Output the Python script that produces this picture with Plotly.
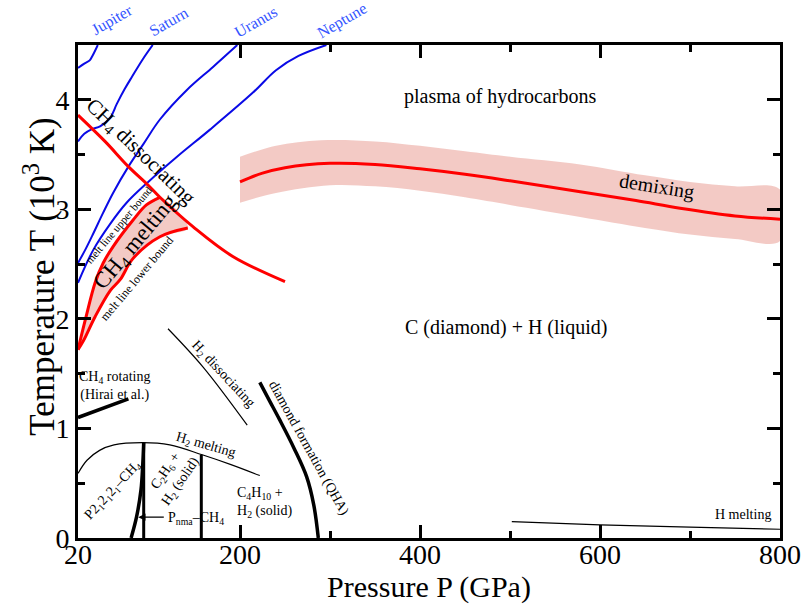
import plotly.graph_objects as go

# ---- planetary isentropes (P in GPa, T in 10^3 K) ----
jupiter_P = [20, 27, 33, 36, 42]
jupiter_T = [4.29, 4.33, 4.36, 4.40, 4.50]
saturn_P = [20, 27, 35, 45, 56, 63, 72, 80, 92, 103]
saturn_T = [3.62, 3.69, 3.73, 3.76, 3.84, 3.96, 4.10, 4.21, 4.37, 4.50]
uranus_P = [20, 28, 37, 48, 59, 76, 93, 111, 141, 170, 197]
uranus_T = [2.51, 2.63, 2.78, 2.97, 3.15, 3.39, 3.60, 3.82, 4.09, 4.30, 4.50]
neptune_P = [20, 37, 56, 74, 98, 130, 167, 215, 240, 265, 296]
neptune_T = [2.33, 2.63, 2.87, 3.06, 3.25, 3.48, 3.73, 4.07, 4.27, 4.40, 4.50]
planet_names = ["Jupiter", "Saturn", "Uranus", "Neptune"]
planet_label_P = [58, 121, 218, 313]
planet_label_T = [4.73, 4.71, 4.71, 4.72]

# ---- CH4 dissociation ----
diss_P = [20, 50, 76, 98, 111, 148, 192, 250]
diss_T = [3.86, 3.62, 3.39, 3.22, 3.11, 2.84, 2.57, 2.34]

# ---- CH4 melting band ----
melt_up_P = [20, 29, 39, 48, 59, 81, 96, 111]
melt_up_T = [1.72, 2.02, 2.33, 2.51, 2.66, 2.90, 3.04, 3.11]
melt_lo_P = [20, 26, 39, 56, 67, 81, 111, 142]
melt_lo_T = [1.72, 1.80, 2.02, 2.26, 2.36, 2.55, 2.75, 2.83]

# ---- demixing line with uncertainty band ----
demix_P = [200, 225, 250, 300, 350, 400, 450, 500, 578, 640, 689, 750, 800]
demix_T = [3.25, 3.33, 3.38, 3.42, 3.41, 3.37, 3.32, 3.26, 3.16, 3.08, 3.01, 2.94, 2.91]
demix_hi_P = [200, 240, 290, 350, 400, 450, 500, 578, 650, 700, 750, 800]
demix_hi_T = [3.48, 3.58, 3.63, 3.62, 3.58, 3.53, 3.48, 3.41, 3.31, 3.25, 3.21, 3.18]
demix_lo_P = [200, 240, 300, 350, 400, 450, 500, 578, 650, 700, 750, 800]
demix_lo_T = [3.06, 3.15, 3.22, 3.21, 3.17, 3.11, 3.04, 2.93, 2.83, 2.77, 2.73, 2.71]

# ---- low-temperature boundaries ----
hirai_P = [20, 76]
hirai_T = [1.10, 1.27]
h2diss_P = [120, 159, 208]
h2diss_T = [1.91, 1.56, 1.03]
diamond_P = [222, 233, 244, 260, 274, 282, 287]
diamond_T = [1.42, 1.25, 1.08, 0.82, 0.56, 0.30, 0.0]
h2melt_P = [20, 30, 44, 60, 92, 122, 158, 190, 222]
h2melt_T = [0.59, 0.71, 0.80, 0.85, 0.87, 0.85, 0.76, 0.67, 0.57]
c2h6_P = [93, 93]
c2h6_T = [0.0, 0.87]
c4h10_P = [157, 157]
c4h10_T = [0.0, 0.76]
pnma_P = [79, 85, 90, 92, 93]
pnma_T = [0.0, 0.19, 0.44, 0.68, 0.87]
hmelt_P = [502, 600, 700, 800]
hmelt_T = [0.15, 0.12, 0.10, 0.08]

T_MAX = 4.5
SERIF = "Liberation Serif, Times New Roman, serif"
RED = "#ff0000"
PINK = "rgba(232,150,140,0.5)"
BLUE = "#0a0ae6"
LABEL_BLUE = "#3355ff"

fig = go.Figure()


def line(P, T, color, width, shape="spline"):
    fig.add_trace(go.Scatter(x=P, y=T, mode="lines", line=dict(color=color, width=width, shape=shape),
                             hoverinfo="skip", showlegend=False))


# shaded bands
fig.add_trace(go.Scatter(x=demix_hi_P + demix_lo_P[::-1], y=demix_hi_T + demix_lo_T[::-1],
                         mode="lines", fill="toself", fillcolor=PINK, line=dict(width=0, shape="spline"),
                         hoverinfo="skip", showlegend=False))
fig.add_trace(go.Scatter(x=melt_up_P + melt_lo_P[::-1], y=melt_up_T + melt_lo_T[::-1],
                         mode="lines", fill="toself", fillcolor=PINK, line=dict(width=0, shape="spline"),
                         hoverinfo="skip", showlegend=False))

# planets
for P, T in [(jupiter_P, jupiter_T), (saturn_P, saturn_T), (uranus_P, uranus_T), (neptune_P, neptune_T)]:
    line(P, T, BLUE, 2)

# red curves
line(diss_P, diss_T, RED, 3)
line(melt_up_P, melt_up_T, RED, 3)
line(melt_lo_P, melt_lo_T, RED, 3)
line(demix_P, demix_T, RED, 3)

# black boundaries
line(hirai_P, hirai_T, "black", 3.5, "linear")
line(h2diss_P, h2diss_T, "black", 1.2)
line(diamond_P, diamond_T, "black", 3.5)
line(h2melt_P, h2melt_T, "black", 1.2)
line(c2h6_P, c2h6_T, "black", 3, "linear")
line(c4h10_P, c4h10_T, "black", 3, "linear")
line(pnma_P, pnma_T, "black", 3.5)
line(hmelt_P, hmelt_T, "black", 1.2)

annotations = []


def label(text, P, T, size, angle=0, color="black", align="center", xanchor="center"):
    annotations.append(dict(x=P, y=T, xref="x", yref="y", text=text, showarrow=False,
                            textangle=angle, align=align, xanchor=xanchor, yanchor="middle",
                            font=dict(family=SERIF, size=size, color=color)))


# planet names sit above the frame, so they are placed in paper units vertically
for name, P, T in zip(planet_names, planet_label_P, planet_label_T):
    annotations.append(dict(x=P, y=T / T_MAX, xref="x", yref="paper", text=name, showarrow=False,
                            xanchor="center", yanchor="middle", textangle=-30,
                            font=dict(family=SERIF, size=16, color=LABEL_BLUE)))

label("plasma of hydrocarbons", 489, 4.03, 20)
label("C (diamond) + H (liquid)", 496, 1.92, 20)
label("demixing", 663, 3.21, 20, 9)
label("CH<sub>4</sub> dissociating", 89, 3.52, 21, 44)
label("CH<sub>4</sub> melting", 85, 2.70, 23, -50)
label("melt line upper bound", 65, 2.86, 11, -50)
label("melt line lower bound", 86, 2.37, 12, -50)
label("CH<sub>4</sub> rotating<br>(Hirai et al.)", 61, 1.39, 14)
label("H<sub>2</sub> dissociating", 181, 1.49, 14, 47)
label("diamond formation (QHA)", 276, 0.82, 14, 61)
label("H<sub>2</sub> melting", 162, 0.84, 14, 16)
label("P2<sub>1</sub>2<sub>1</sub>2<sub>1</sub>–CH<sub>4</sub>", 59, 0.43, 14, -47)
label("C<sub>2</sub>H<sub>6</sub> +<br>H<sub>2</sub> (solid)", 126, 0.56, 14, -55)
label("C<sub>4</sub>H<sub>10</sub> +<br>H<sub>2</sub> (solid)", 194, 0.32, 14, 0, align="left", xanchor="left")
label("H melting", 759, 0.21, 14)
label("P<sub>nma</sub>–CH<sub>4</sub>", 118, 0.18, 14, 0, xanchor="left")

# arrow pointing at the Pnma boundary
annotations.append(dict(x=87, y=0.19, ax=117, ay=0.19, xref="x", yref="y", axref="x", ayref="y",
                        text="", showarrow=True, arrowhead=2, arrowsize=1.2, arrowwidth=1.2,
                        arrowcolor="black"))

# y-axis title
annotations.append(dict(x=-0.054, y=0.53, xref="paper", yref="paper", showarrow=False, textangle=-90,
                        xanchor="center", yanchor="middle",
                        text="Temperature T (10<sup>3</sup> K)",
                        font=dict(family=SERIF, size=35, color="black")))

axis_common = dict(showline=True, linewidth=3, linecolor="black", mirror="ticks",
                   ticks="inside", ticklen=13, tickwidth=2.5, tickcolor="black",
                   showgrid=False, zeroline=False,
                   tickfont=dict(family=SERIF, size=28, color="black"))

fig.update_xaxes(range=[20, 800], tickvals=[20, 200, 400, 600, 800], ticklabelstandoff=-11,
                 minor=dict(tickvals=[300, 500, 700], ticks="inside", ticklen=7, tickwidth=2.5,
                            tickcolor="black", showgrid=False),
                 title=dict(text="Pressure P (GPa)", font=dict(family=SERIF, size=30, color="black"),
                            standoff=0),
                 **axis_common)
fig.update_yaxes(range=[0, T_MAX], tickvals=[0, 1, 2, 3, 4],
                 minor=dict(tickvals=[0.5, 1.5, 2.5, 3.5], ticks="inside", ticklen=7, tickwidth=2.5,
                            tickcolor="black", showgrid=False),
                 **axis_common)

fig.update_layout(width=806, height=606, margin=dict(l=78, r=26, t=45, b=68, autoexpand=False),
                  plot_bgcolor="white", paper_bgcolor="white", annotations=annotations,
                  font=dict(family=SERIF))

fig.write_html("out.html")
